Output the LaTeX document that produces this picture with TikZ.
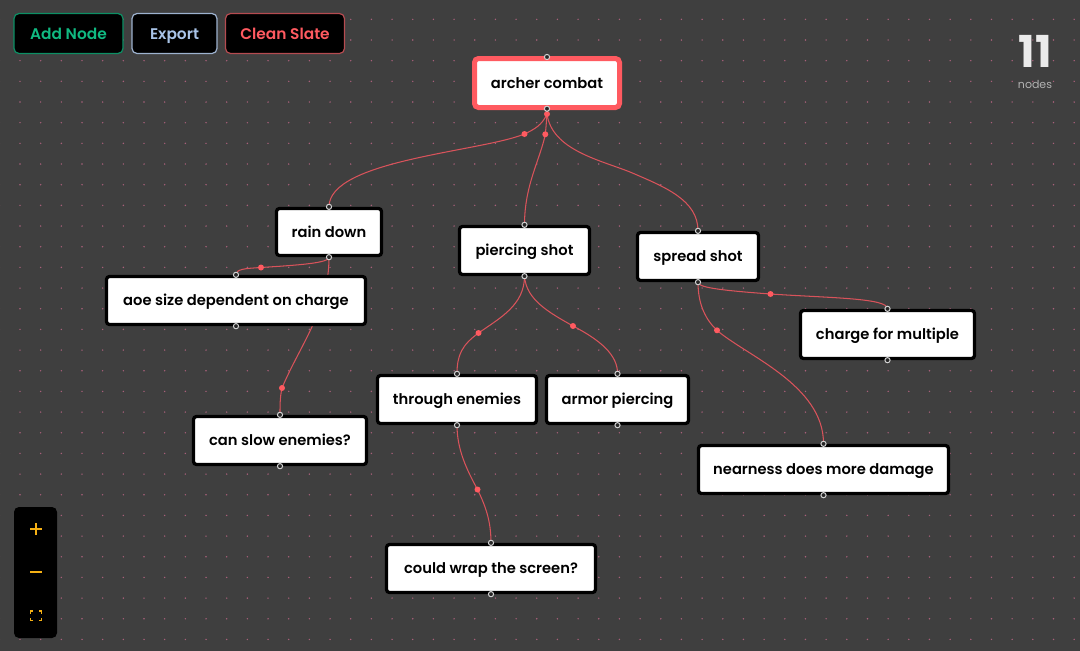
\documentclass[tikz,border=0pt]{standalone}
\usepackage{fontspec}
\setmainfont{Poppins}[BoldFont={Poppins SemiBold}]
\newfontfamily\cntfont{Poppins}[BoldFont={Poppins Bold}]
\definecolor{bgc}{HTML}{3F3F3F}
\definecolor{griddot}{HTML}{A8607A}
\definecolor{edgec}{HTML}{D9535B}
\definecolor{redc}{HTML}{FF5A60}
\definecolor{greenc}{HTML}{10B981}
\definecolor{greenb}{HTML}{0C8F64}
\definecolor{bluec}{HTML}{A9C4E8}
\definecolor{blueb}{HTML}{9DB2CF}
\definecolor{redb}{HTML}{B54B50}
\definecolor{amberc}{HTML}{F5B014}
\pgfdeclarelayer{bglayer}\pgfdeclarelayer{edgelayer}
\pgfsetlayers{bglayer,edgelayer,main}
\tikzset{x=1pt,y=-1pt,
 nodebox/.style={draw=black,line width=3.3pt,fill=white,rounded corners=3pt,inner sep=0pt,text=black,font=\fontsize{14.7}{16}\selectfont\bfseries,text height=13.6pt,text depth=3pt,align=center},
 rootbox/.style={nodebox,draw=redc,line width=5pt,rounded corners=4pt},
 btn/.style={fill=black,line width=1.2pt,rounded corners=5pt,inner sep=0pt,font=\fontsize{15.4}{16}\selectfont\bfseries,text height=14.6pt,text depth=3pt},
 edge/.style={draw=edgec,line width=1.05pt},
 middot/.style={circle,fill=redc,inner sep=0pt,minimum size=6pt},
 handle/.style={circle,draw=white!82!black,fill=bgc!60!black,line width=1pt,inner sep=0pt,minimum size=5.2pt},
 ctl/.style={draw=amberc,line width=1.2pt}}
\begin{document}
\begin{tikzpicture}
\begin{pgfonlayer}{bglayer}
\path[use as bounding box,fill=bgc] (0,0) rectangle (1080,651);
\foreach \i in {0,...,52}{\foreach \j in {0,...,31}{
  \fill[griddot] ({-0.67+20.67*\i},{-1.33+20.67*\j}) circle (.8pt);
}}
\end{pgfonlayer}
% nodes
\node[rootbox,minimum width=145pt,minimum height=49pt] (root) at (547,83) {archer combat};
\node[nodebox,minimum width=105pt,minimum height=47pt] (rain) at (329,232) {rain down};
\node[nodebox,minimum width=259pt,minimum height=48pt] (aoe) at (236,300.5) {aoe size dependent on charge};
\node[nodebox,minimum width=130pt,minimum height=48pt] (pierce) at (524.5,250.5) {piercing shot};
\node[nodebox,minimum width=121pt,minimum height=48pt] (spread) at (698,256.5) {spread shot};
\node[nodebox,minimum width=174pt,minimum height=48pt] (charge) at (887.5,334.5) {charge for multiple};
\node[nodebox,minimum width=159pt,minimum height=48pt] (through) at (457,399.5) {through enemies};
\node[nodebox,minimum width=142pt,minimum height=48pt] (armor) at (617.5,399.5) {armor piercing};
\node[nodebox,minimum width=173pt,minimum height=48pt] (slow) at (280,440.5) {can slow enemies?};
\node[nodebox,minimum width=250pt,minimum height=48pt] (near) at (823.5,469.5) {nearness does more damage};
\node[nodebox,minimum width=209pt,minimum height=48pt] (wrap) at (491,568.5) {could wrap the screen?};
% edges
\begin{pgfonlayer}{edgelayer}
\draw[edge] (root.south) -- (547,114) .. controls (542,125) and (535,129) .. (524.5,134) node[middot] (m1) {} .. controls (480,152) and (329,160) .. (rain.north);
\draw[edge] (root.south) -- (547,114) .. controls (546.5,120) and (546,128) .. (545.3,134.3) node[middot] (m2) {} .. controls (540,160) and (524.5,185) .. (pierce.north);
\draw[edge] (root.south) -- (547,114) .. controls (552,150) and (600,160) .. (630,172) .. controls (665,187) and (698,200) .. (spread.north);
\draw[edge] (rain.south) .. controls (329,263) and (300,265) .. (261,267.5) node[middot] (m3) {} .. controls (245,268.5) and (236,269) .. (aoe.north);
\draw[edge] (rain.south) .. controls (329,310) and (300,345) .. (282,388) node[middot] (m4) {} .. controls (280,397) and (280,405) .. (slow.north);
\draw[edge] (pierce.south) .. controls (524.5,305) and (500,318) .. (478.5,333) node[middot] (m5) {} .. controls (462,345) and (457,355) .. (through.north);
\draw[edge] (pierce.south) .. controls (526,300) and (550,313) .. (573,326) node[middot] (m6) {} .. controls (600,340) and (618,355) .. (armor.north);
\draw[edge] (spread.south) .. controls (698,287) and (715,290) .. (770.5,294) node[middot] (m7) {} .. controls (830,298) and (888,298) .. (charge.north);
\draw[edge] (spread.south) .. controls (698,305) and (706,320) .. (717,330.3) node[middot] (m8) {} .. controls (745,355) and (824,385) .. (near.north);
\draw[edge] (through.south) .. controls (457,450) and (467,470) .. (477.5,489.5) node[middot] (m9) {} .. controls (485,505) and (491,520) .. (wrap.north);
\end{pgfonlayer}
\node[middot] (m0) at (547,114) {};
% handles
\foreach \n in {rain,aoe,pierce,spread,charge,through,armor,slow,near,wrap}{
  \node[handle] at (\n.north) {};
  \node[handle] at (\n.south) {};
}
\node[handle] at ([yshift=-1pt]root.north) {};
\node[handle] at ([yshift=1.3pt]root.south) {};
% buttons
\node[btn,draw=greenb,text=greenc,minimum width=109pt,minimum height=40pt] (b1) at (68.5,33.5) {Add Node};
\node[btn,draw=blueb,text=bluec,minimum width=85pt,minimum height=40pt] (b2) at (174.5,33.5) {Export};
\node[btn,draw=redb,text=redc,minimum width=119pt,minimum height=40pt] (b3) at (285,33.5) {Clean Slate};
% counter
\node[text=white!92!black,font=\cntfont\fontsize{44}{44}\selectfont\bfseries,inner sep=0pt] (cnt) at (1035.5,51.5) {11};
\node[text=white!70!black,font=\fontsize{11}{12}\selectfont,inner sep=0pt] (cntl) at (1035,84.5) {nodes};
% zoom panel
\fill[black] [rounded corners=5pt] (14,507) rectangle (57,638);
\draw[ctl] (30,529) -- (42,529) (36,523) -- (36,535);
\draw[ctl] (30,572) -- (42,572);
\draw[ctl] (30.5,614) -- (30.5,611) -- (33,611) (39,611) -- (41.5,611) -- (41.5,614) (41.5,618) -- (41.5,620.5) -- (39,620.5) (33,620.5) -- (30.5,620.5) -- (30.5,618);
\end{tikzpicture}
\end{document}
